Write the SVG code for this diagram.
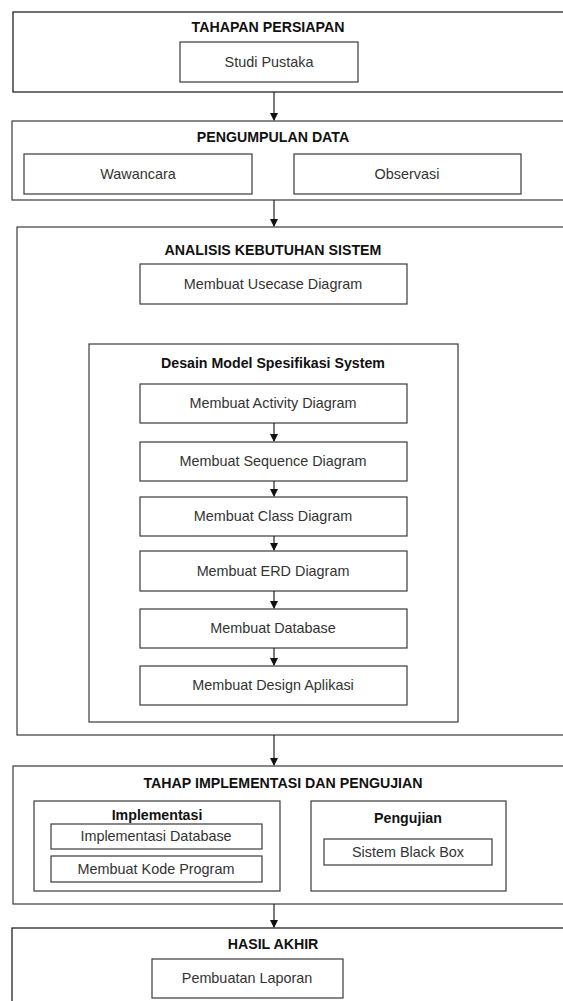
<svg xmlns="http://www.w3.org/2000/svg" width="563" height="1001" viewBox="0 0 563 1001">
<style>
rect{fill:#fff;stroke:#3a3a3a;stroke-width:1.2}
.t{font-family:"Liberation Sans",Arial,sans-serif;font-size:14.4px;fill:#333;text-anchor:middle}
.b{font-family:"Liberation Sans",Arial,sans-serif;font-size:14.2px;font-weight:bold;fill:#111;text-anchor:middle}
.c{stroke:#222;stroke-width:1.2;fill:none}
</style>
<defs>
<marker id="ah" markerWidth="8" markerHeight="8" refX="7" refY="4" orient="auto" markerUnits="userSpaceOnUse">
<path d="M0,0 L8,4 L0,8 Z" fill="#111"/>
</marker>
</defs>
<rect width="563" height="1001" style="fill:#fff;stroke:none"/>
<g id="tahapan-persiapan">
<rect x="13" y="12" width="580" height="80" style="stroke:#111"/>
<text class="b" x="268" y="32">TAHAPAN PERSIAPAN</text>
<rect x="180" y="42" width="178" height="40"/>
<text class="t" x="269" y="67">Studi Pustaka</text>
</g>
<g id="pengumpulan-data">
<rect x="12" y="121" width="580" height="79"/>
<text class="b" x="273" y="142">PENGUMPULAN DATA</text>
<rect x="24" y="154" width="228" height="40"/>
<text class="t" x="138" y="179">Wawancara</text>
<rect x="294" y="154" width="227" height="40"/>
<text class="t" x="407" y="179">Observasi</text>
</g>
<g id="analisis">
<rect x="17" y="227" width="580" height="508"/>
<text class="b" x="273" y="255">ANALISIS KEBUTUHAN SISTEM</text>
<rect x="140" y="264" width="267" height="40"/>
<text class="t" x="273" y="289">Membuat Usecase Diagram</text>
</g>
<g id="desain-model">
<rect x="89" y="344" width="369" height="378"/>
<text class="b" x="273" y="368">Desain Model Spesifikasi System</text>
</g>
<g id="activity"><rect x="140" y="384" width="267" height="39"/><text class="t" x="273" y="408">Membuat Activity Diagram</text></g>
<g id="sequence"><rect x="140" y="442" width="267" height="39"/><text class="t" x="273" y="466">Membuat Sequence Diagram</text></g>
<g id="class"><rect x="140" y="497" width="267" height="39"/><text class="t" x="273" y="521">Membuat Class Diagram</text></g>
<g id="erd"><rect x="140" y="551" width="267" height="40"/><text class="t" x="273" y="576">Membuat ERD Diagram</text></g>
<g id="database"><rect x="140" y="609" width="267" height="39"/><text class="t" x="273" y="633">Membuat Database</text></g>
<g id="design"><rect x="140" y="666" width="267" height="39"/><text class="t" x="273" y="690">Membuat Design Aplikasi</text></g>
<g id="implementasi-pengujian">
<rect x="13" y="766" width="580" height="138"/>
<text class="b" x="283" y="788">TAHAP IMPLEMENTASI DAN PENGUJIAN</text>
</g>
<g id="implementasi">
<rect x="34" y="801" width="246" height="90"/>
<text class="b" x="157" y="820">Implementasi</text>
<rect x="51" y="824" width="211" height="25"/>
<text class="t" x="156" y="841">Implementasi Database</text>
<rect x="51" y="856" width="211" height="26"/>
<text class="t" x="156" y="874">Membuat Kode Program</text>
</g>
<g id="pengujian">
<rect x="311" y="801" width="195" height="90"/>
<text class="b" x="408" y="823">Pengujian</text>
<rect x="324" y="839" width="168" height="26"/>
<text class="t" x="408" y="857">Sistem Black Box</text>
</g>
<g id="hasil-akhir">
<rect x="12" y="928" width="580" height="90" style="stroke:#111"/>
<text class="b" x="273" y="949">HASIL AKHIR</text>
<rect x="152" y="959" width="191" height="39"/>
<text class="t" x="247" y="983">Pembuatan Laporan</text>
</g>
<g id="connectors">
<line class="c" x1="274" y1="92" x2="274" y2="120" marker-end="url(#ah)"/>
<line class="c" x1="274" y1="200" x2="274" y2="226" marker-end="url(#ah)"/>
<line class="c" x1="274" y1="423" x2="274" y2="441" marker-end="url(#ah)"/>
<line class="c" x1="274" y1="481" x2="274" y2="496" marker-end="url(#ah)"/>
<line class="c" x1="274" y1="536" x2="274" y2="550" marker-end="url(#ah)"/>
<line class="c" x1="274" y1="591" x2="274" y2="608" marker-end="url(#ah)"/>
<line class="c" x1="274" y1="648" x2="274" y2="665" marker-end="url(#ah)"/>
<line class="c" x1="274" y1="735" x2="274" y2="765" marker-end="url(#ah)"/>
<line class="c" x1="274" y1="904" x2="274" y2="927" marker-end="url(#ah)"/>
</g>
</svg>
